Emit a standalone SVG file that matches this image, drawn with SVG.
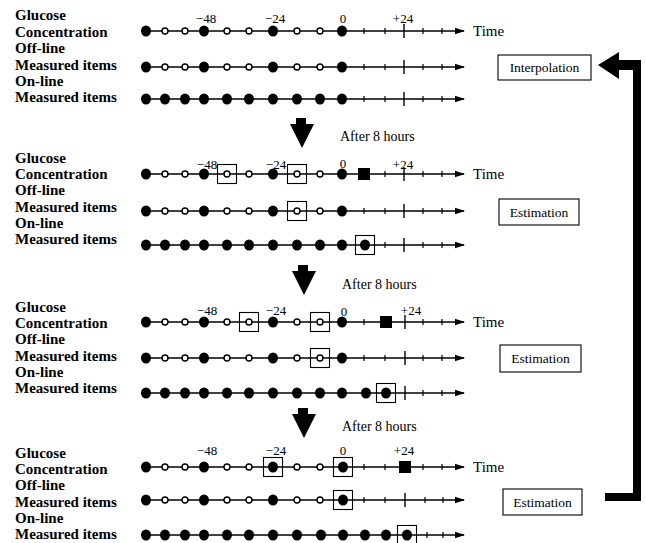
<svg xmlns="http://www.w3.org/2000/svg" xmlns:xlink="http://www.w3.org/1999/xlink" width="646" height="543" viewBox="0 0 646 543">
<style>
.lbl{font-family:"Liberation Serif","Times New Roman",serif;font-weight:bold;font-size:15px;fill:#000}
.tl{font-family:"Liberation Serif","Times New Roman",serif;font-size:13px;fill:#000;text-anchor:middle}
.ah{font-family:"Liberation Serif","Times New Roman",serif;font-size:14px;fill:#000}
.tm{font-family:"Liberation Serif","Times New Roman",serif;font-size:15px;fill:#000}
.bt{font-family:"Liberation Serif","Times New Roman",serif;font-size:13.5px;fill:#000;text-anchor:middle}
.ax{stroke:#000;stroke-width:1.4;fill:none}
.bx{stroke:#000;stroke-width:1.1;fill:none}
</style>
<defs>
<marker id="arr" viewBox="0 0 10 8" refX="9" refY="4" markerWidth="10" markerHeight="8" markerUnits="userSpaceOnUse" orient="auto"><path d="M0,0.8 L10,4 L0,7.2 Z" fill="#000"/></marker>
<ellipse id="B" rx="5" ry="5.5" fill="#000"/>
<circle id="S" r="3" fill="#fff" stroke="#000" stroke-width="1.4"/>
<line id="T" x1="0" y1="-3" x2="0" y2="3" stroke="#000" stroke-width="1.2"/>
<line id="L" x1="0" y1="-7" x2="0" y2="7" stroke="#000" stroke-width="1.4"/>
<rect id="X" x="-9.5" y="-9.5" width="19" height="19" fill="none" stroke="#000" stroke-width="1.1"/>
<rect id="Q" x="-6" y="-6" width="12" height="12" fill="#000"/>
<polygon id="D" points="-6,0 4,0 4,6 12,6 0,30 -12,6 -6,6" fill="#000"/>
</defs>

<!-- ===== Panel 1 ===== -->
<g id="panel1">
<g id="p1-labels">
<text class="lbl" x="15" y="20">Glucose</text>
<text class="lbl" x="15" y="37">Concentration</text>
<text class="lbl" x="15" y="53">Off-line</text>
<text class="lbl" x="15" y="70">Measured items</text>
<text class="lbl" x="15" y="86">On-line</text>
<text class="lbl" x="15" y="102">Measured items</text>
</g>
<g id="p1-ticklabels">
<text class="tl" x="206" y="23">−48</text>
<text class="tl" x="275" y="23">−24</text>
<text class="tl" x="343" y="23">0</text>
<text class="tl" x="403" y="23">+24</text>
</g>
<g id="p1-row1">
<line class="ax" x1="146" y1="31" x2="464" y2="31" marker-end="url(#arr)"/>
<use href="#T" x="364" y="31"/><use href="#T" x="385" y="31"/><use href="#L" x="404" y="31"/><use href="#T" x="423" y="31"/><use href="#T" x="442" y="31"/>
<use href="#B" x="146" y="31"/><use href="#S" x="165" y="31"/><use href="#S" x="185" y="31"/><use href="#B" x="204" y="31"/><use href="#S" x="227" y="31"/><use href="#S" x="249" y="31"/><use href="#B" x="273" y="31"/><use href="#S" x="297" y="31"/><use href="#S" x="320" y="31"/><use href="#B" x="342" y="31"/>
<text class="tm" x="473" y="36">Time</text>
</g>
<g id="p1-row2">
<line class="ax" x1="146" y1="67" x2="464" y2="67" marker-end="url(#arr)"/>
<use href="#T" x="364" y="67"/><use href="#T" x="385" y="67"/><use href="#L" x="404" y="67"/><use href="#T" x="423" y="67"/><use href="#T" x="442" y="67"/>
<use href="#B" x="146" y="67"/><use href="#S" x="165" y="67"/><use href="#S" x="185" y="67"/><use href="#B" x="204" y="67"/><use href="#S" x="227" y="67"/><use href="#S" x="249" y="67"/><use href="#B" x="273" y="67"/><use href="#S" x="297" y="67"/><use href="#S" x="320" y="67"/><use href="#B" x="342" y="67"/>
</g>
<g id="p1-row3">
<line class="ax" x1="146" y1="99" x2="464" y2="99" marker-end="url(#arr)"/>
<use href="#T" x="364" y="99"/><use href="#T" x="385" y="99"/><use href="#L" x="404" y="99"/><use href="#T" x="423" y="99"/><use href="#T" x="442" y="99"/>
<use href="#B" x="146" y="99"/><use href="#B" x="165" y="99"/><use href="#B" x="185" y="99"/><use href="#B" x="204" y="99"/><use href="#B" x="227" y="99"/><use href="#B" x="249" y="99"/><use href="#B" x="273" y="99"/><use href="#B" x="297" y="99"/><use href="#B" x="320" y="99"/><use href="#B" x="342" y="99"/>
</g>
</g>
<g id="interpolation">
<rect class="bx" x="498" y="55" width="93" height="25"/>
<text class="bt" x="544.5" y="72">Interpolation</text>
</g>

<!-- ===== Panel 2 ===== -->
<g id="step1">
<use href="#D" x="302" y="118"/>
<text class="ah" x="340" y="141">After 8 hours</text>
</g>
<g id="panel2">
<g id="p2-labels">
<text class="lbl" x="15" y="163">Glucose</text>
<text class="lbl" x="15" y="179">Concentration</text>
<text class="lbl" x="15" y="195">Off-line</text>
<text class="lbl" x="15" y="212">Measured items</text>
<text class="lbl" x="15" y="228">On-line</text>
<text class="lbl" x="15" y="244">Measured items</text>
</g>
<g id="p2-ticklabels">
<text class="tl" x="207" y="169">−48</text>
<text class="tl" x="276" y="169">−24</text>
<text class="tl" x="343" y="168">0</text>
<text class="tl" x="403" y="169">+24</text>
</g>
<g id="p2-row1">
<line class="ax" x1="146" y1="174" x2="464" y2="174" marker-end="url(#arr)"/>
<use href="#T" x="385" y="174"/><use href="#L" x="404" y="174"/><use href="#T" x="423" y="174"/><use href="#T" x="442" y="174"/>
<use href="#B" x="146" y="174"/><use href="#S" x="165" y="174"/><use href="#S" x="185" y="174"/><use href="#B" x="204" y="174"/><use href="#S" x="227" y="174"/><use href="#S" x="249" y="174"/><use href="#B" x="273" y="174"/><use href="#S" x="297" y="174"/><use href="#S" x="320" y="174"/><use href="#B" x="342" y="174"/>
<use href="#Q" x="364" y="174"/>
<use href="#X" x="227" y="174"/><use href="#X" x="297" y="174"/>
<text class="tm" x="473" y="179">Time</text>
</g>
<g id="p2-row2">
<line class="ax" x1="146" y1="211" x2="464" y2="211" marker-end="url(#arr)"/>
<use href="#T" x="364" y="211"/><use href="#T" x="385" y="211"/><use href="#L" x="404" y="211"/><use href="#T" x="423" y="211"/><use href="#T" x="442" y="211"/>
<use href="#B" x="146" y="211"/><use href="#S" x="165" y="211"/><use href="#S" x="185" y="211"/><use href="#B" x="204" y="211"/><use href="#S" x="227" y="211"/><use href="#S" x="249" y="211"/><use href="#B" x="273" y="211"/><use href="#S" x="297" y="211"/><use href="#S" x="320" y="211"/><use href="#B" x="342" y="211"/>
<use href="#X" x="297" y="211"/>
</g>
<g id="p2-row3">
<line class="ax" x1="146" y1="245" x2="464" y2="245" marker-end="url(#arr)"/>
<use href="#T" x="385" y="245"/><use href="#L" x="404" y="245"/><use href="#T" x="423" y="245"/><use href="#T" x="442" y="245"/>
<use href="#B" x="146" y="245"/><use href="#B" x="165" y="245"/><use href="#B" x="185" y="245"/><use href="#B" x="204" y="245"/><use href="#B" x="227" y="245"/><use href="#B" x="249" y="245"/><use href="#B" x="273" y="245"/><use href="#B" x="297" y="245"/><use href="#B" x="320" y="245"/><use href="#B" x="342" y="245"/><use href="#B" x="365" y="245"/>
<use href="#X" x="365" y="245"/>
</g>
</g>
<g id="estimation1">
<rect class="bx" x="499" y="199" width="80" height="26"/>
<text class="bt" x="539" y="217">Estimation</text>
</g>

<!-- ===== Panel 3 ===== -->
<g id="step2">
<use href="#D" x="304" y="265"/>
<text class="ah" x="342" y="289">After 8 hours</text>
</g>
<g id="panel3">
<g id="p3-labels">
<text class="lbl" x="15" y="312">Glucose</text>
<text class="lbl" x="15" y="328">Concentration</text>
<text class="lbl" x="15" y="344">Off-line</text>
<text class="lbl" x="15" y="361">Measured items</text>
<text class="lbl" x="15" y="377">On-line</text>
<text class="lbl" x="15" y="393">Measured items</text>
</g>
<g id="p3-ticklabels">
<text class="tl" x="207" y="315">−48</text>
<text class="tl" x="276" y="315">−24</text>
<text class="tl" x="344" y="316">0</text>
<text class="tl" x="411" y="315">+24</text>
</g>
<g id="p3-row1">
<line class="ax" x1="146" y1="322" x2="464" y2="322" marker-end="url(#arr)"/>
<use href="#T" x="364" y="322"/><use href="#L" x="405" y="322"/><use href="#T" x="423" y="322"/><use href="#T" x="442" y="322"/>
<use href="#B" x="146" y="322"/><use href="#S" x="165" y="322"/><use href="#S" x="185" y="322"/><use href="#B" x="204" y="322"/><use href="#S" x="227" y="322"/><use href="#S" x="249" y="322"/><use href="#B" x="273" y="322"/><use href="#S" x="297" y="322"/><use href="#S" x="320" y="322"/><use href="#B" x="342" y="322"/>
<use href="#Q" x="386" y="322"/>
<use href="#X" x="249" y="322"/><use href="#X" x="320" y="322"/>
<text class="tm" x="473" y="327">Time</text>
</g>
<g id="p3-row2">
<line class="ax" x1="146" y1="358" x2="464" y2="358" marker-end="url(#arr)"/>
<use href="#T" x="364" y="358"/><use href="#T" x="385" y="358"/><use href="#L" x="405" y="358"/><use href="#T" x="423" y="358"/><use href="#T" x="442" y="358"/>
<use href="#B" x="146" y="358"/><use href="#S" x="165" y="358"/><use href="#S" x="185" y="358"/><use href="#B" x="204" y="358"/><use href="#S" x="227" y="358"/><use href="#S" x="249" y="358"/><use href="#B" x="273" y="358"/><use href="#S" x="297" y="358"/><use href="#S" x="320" y="358"/><use href="#B" x="342" y="358"/>
<use href="#X" x="320" y="358"/>
</g>
<g id="p3-row3">
<line class="ax" x1="146" y1="393" x2="464" y2="393" marker-end="url(#arr)"/>
<use href="#L" x="405" y="393"/><use href="#T" x="423" y="393"/><use href="#T" x="442" y="393"/>
<use href="#B" x="146" y="393"/><use href="#B" x="165" y="393"/><use href="#B" x="185" y="393"/><use href="#B" x="204" y="393"/><use href="#B" x="227" y="393"/><use href="#B" x="249" y="393"/><use href="#B" x="273" y="393"/><use href="#B" x="297" y="393"/><use href="#B" x="320" y="393"/><use href="#B" x="342" y="393"/><use href="#B" x="366" y="393"/><use href="#B" x="386" y="393"/>
<use href="#X" x="386" y="393"/>
</g>
</g>
<g id="estimation2">
<rect class="bx" x="500" y="345" width="81" height="27"/>
<text class="bt" x="540.5" y="363">Estimation</text>
</g>

<!-- ===== Panel 4 ===== -->
<g id="step3">
<use href="#D" x="304" y="408"/>
<text class="ah" x="342" y="431">After 8 hours</text>
</g>
<g id="panel4">
<g id="p4-labels">
<text class="lbl" x="15" y="458">Glucose</text>
<text class="lbl" x="15" y="474">Concentration</text>
<text class="lbl" x="15" y="490">Off-line</text>
<text class="lbl" x="15" y="507">Measured items</text>
<text class="lbl" x="15" y="523">On-line</text>
<text class="lbl" x="15" y="539">Measured items</text>
</g>
<g id="p4-ticklabels">
<text class="tl" x="207" y="455">−48</text>
<text class="tl" x="276" y="455">−24</text>
<text class="tl" x="343" y="455">0</text>
<text class="tl" x="404" y="455">+24</text>
</g>
<g id="p4-row1">
<line class="ax" x1="146" y1="467" x2="464" y2="467" marker-end="url(#arr)"/>
<use href="#T" x="364" y="467"/><use href="#T" x="385" y="467"/><use href="#T" x="423" y="467"/><use href="#T" x="442" y="467"/>
<use href="#B" x="146" y="467"/><use href="#S" x="165" y="467"/><use href="#S" x="185" y="467"/><use href="#B" x="204" y="467"/><use href="#S" x="227" y="467"/><use href="#S" x="249" y="467"/><use href="#B" x="273" y="467"/><use href="#S" x="297" y="467"/><use href="#S" x="320" y="467"/><use href="#B" x="343" y="467"/>
<use href="#Q" x="405" y="467"/>
<use href="#X" x="273" y="467"/><use href="#X" x="343" y="467"/>
<text class="tm" x="473" y="472">Time</text>
</g>
<g id="p4-row2">
<line class="ax" x1="146" y1="500" x2="464" y2="500" marker-end="url(#arr)"/>
<use href="#T" x="364" y="500"/><use href="#T" x="385" y="500"/><use href="#L" x="405" y="500"/><use href="#T" x="425" y="500"/><use href="#T" x="443" y="500"/>
<use href="#B" x="146" y="500"/><use href="#S" x="165" y="500"/><use href="#S" x="185" y="500"/><use href="#B" x="204" y="500"/><use href="#S" x="227" y="500"/><use href="#S" x="249" y="500"/><use href="#B" x="273" y="500"/><use href="#S" x="297" y="500"/><use href="#S" x="320" y="500"/><use href="#B" x="343" y="500"/>
<use href="#X" x="343" y="500"/>
</g>
<g id="p4-row3">
<line class="ax" x1="146" y1="535" x2="464" y2="535" marker-end="url(#arr)"/>
<use href="#T" x="427" y="535"/><use href="#T" x="443" y="535"/>
<use href="#B" x="146" y="535"/><use href="#B" x="165" y="535"/><use href="#B" x="185" y="535"/><use href="#B" x="204" y="535"/><use href="#B" x="227" y="535"/><use href="#B" x="249" y="535"/><use href="#B" x="273" y="535"/><use href="#B" x="297" y="535"/><use href="#B" x="321" y="535"/><use href="#B" x="343" y="535"/><use href="#B" x="365" y="535"/><use href="#B" x="386" y="535"/><use href="#B" x="407" y="535"/>
<use href="#X" x="407" y="535"/>
</g>
</g>
<g id="estimation3">
<rect class="bx" x="503" y="489" width="79" height="26"/>
<text class="bt" x="542.5" y="507">Estimation</text>
</g>

<!-- ===== Feedback connector ===== -->
<g id="connectors">
<polygon points="598,65 619,52 619,60 641,60 641,501 605,501 605,493 633,493 633,70 619,70 619,79" fill="#000"/>
</g>
</svg>
